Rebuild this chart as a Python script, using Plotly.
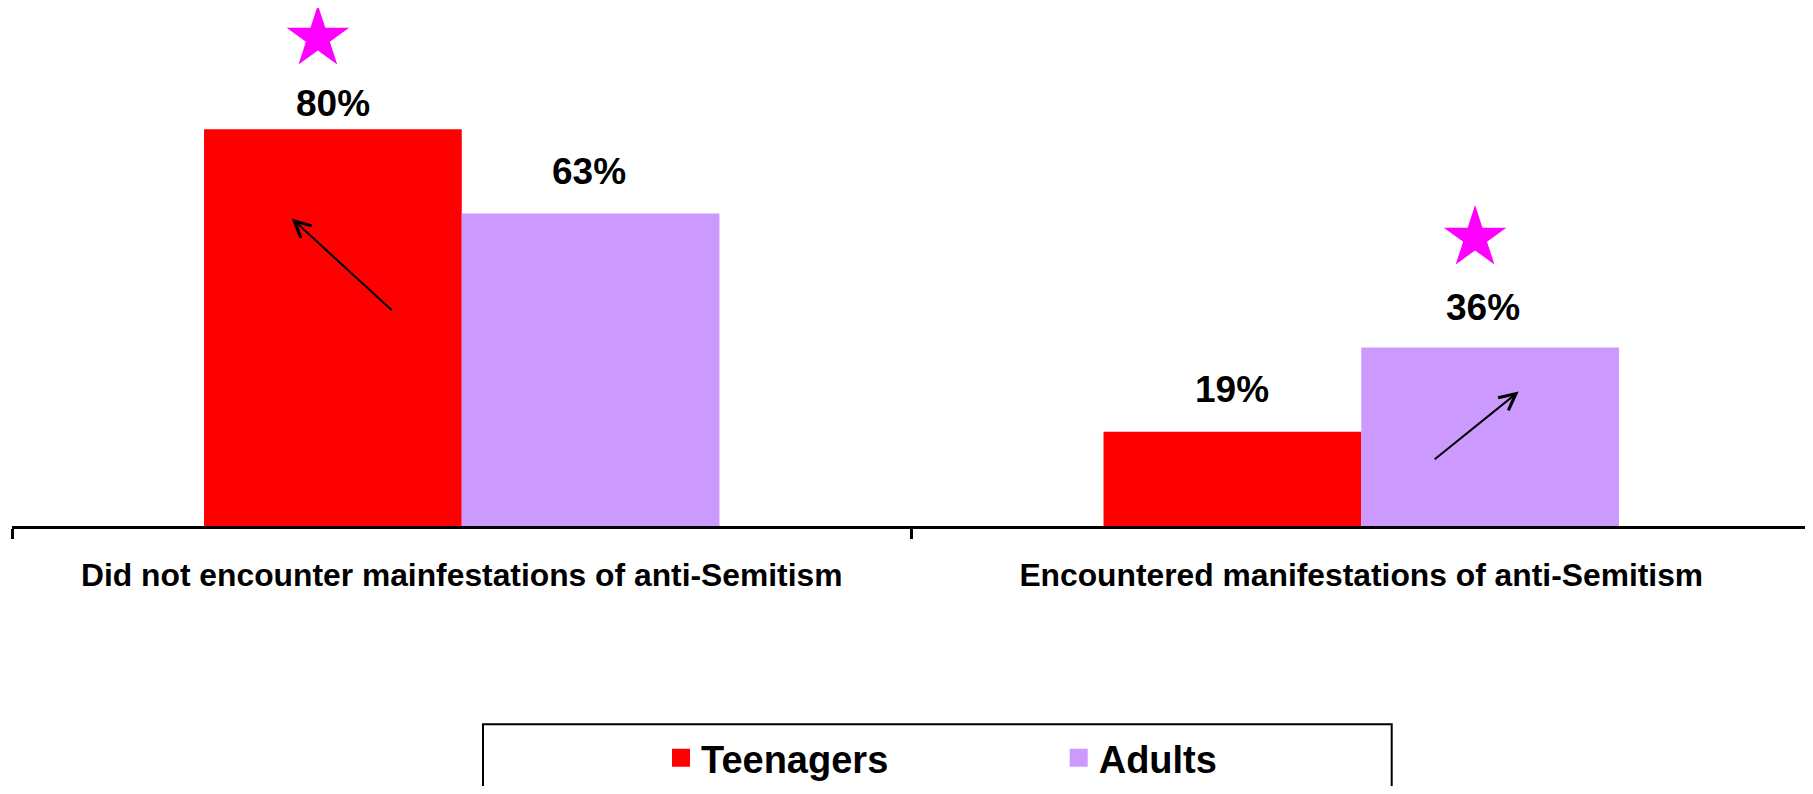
import plotly.graph_objects as go

# ---------------- data ----------------
categories = ["Did not encounter mainfestations of anti-Semitism",
              "Encountered manifestations of anti-Semitism"]
series_names = ["Teenagers", "Adults"]
teen_values = [80, 19]
adult_values = [63, 36]

# stars (significance markers): which category / series they sit over, and their height
star_category = [0, 1]
star_series = [0, 1]
star_y = [98.4, 58.1]

# trend arrows (data coordinates)
arrow_head_x = [-0.189, 1.175]
arrow_head_y = [62.0, 27.1]
arrow_tail_x = [-0.076, 1.080]
arrow_tail_y = [43.2, 13.2]

# ---------------- style ----------------
colors = ["#FF0000", "#CC99FF"]
star_color = "#FF00FF"
FONT = "Liberation Sans, Arial, sans-serif"
PAGE_OFF = 8            # default body margin of the html page
W, H = 1805, 778
ML, MR, MT, MB = 4, 2, 0, 260
PX_PER_UNIT = 4.96
plot_h = H - MT - MB
plot_w = W - ML - MR
bargap = 0.427
bar_w = (1 - bargap) / 2
offsets = [-bar_w / 2, bar_w / 2]
star_shift = -0.0167
# label placement relative to bar top centre (px)
label_gap = [[25.5, 42.5], [42, 40]]
label_dx = [[0, 0], [-2, -7]]

values = [teen_values, adult_values]

fig = go.Figure()
for i, name in enumerate(series_names):
    fig.add_trace(go.Bar(
        x=list(range(len(categories))), y=values[i], name=name,
        marker=dict(color=colors[i], line=dict(width=0)),
        showlegend=False, hoverinfo="skip"))

# legend-only entries (bigger squares)
for i, name in enumerate(series_names):
    fig.add_trace(go.Scatter(
        x=[None], y=[None], mode="markers", name=name,
        marker=dict(symbol="square", size=16, color=colors[i],
                    line=dict(width=2, color=colors[i])),
        legend="legend" if i == 0 else "legend2"))

# stars
star_x = [star_category[k] + offsets[star_series[k]] + star_shift for k in range(len(star_y))]
fig.add_trace(go.Scatter(
    x=star_x, y=star_y, mode="markers",
    marker=dict(symbol="star", size=47, color=star_color, line=dict(width=0)),
    showlegend=False, hoverinfo="skip", cliponaxis=False))

annotations = []
for i in range(len(series_names)):
    for c in range(len(categories)):
        annotations.append(dict(
            x=c + offsets[i], y=values[i][c], xref="x", yref="y",
            text=f"{values[i][c]}%", showarrow=False,
            yanchor="middle", xanchor="center",
            yshift=label_gap[i][c], xshift=label_dx[i][c],
            font=dict(family=FONT, size=37, color="black", weight="bold")))

for k in range(len(arrow_head_x)):
    annotations.append(dict(
        x=arrow_head_x[k], y=arrow_head_y[k], ax=arrow_tail_x[k], ay=arrow_tail_y[k],
        xref="x", yref="y", axref="x", ayref="y", text="", showarrow=True,
        arrowhead=5, arrowsize=1.6, arrowwidth=2, arrowcolor="black", standoff=0))

# page pixel -> figure coordinates
def paper_x(page_px):
    return (page_px - PAGE_OFF - ML) / plot_w

def paper_y(page_py):
    return (MT + plot_h - (page_py - PAGE_OFF)) / plot_h

def cont_x(page_px):
    return (page_px - PAGE_OFF) / W

def cont_y(page_py):
    return 1 - (page_py - PAGE_OFF) / H

legend_common = dict(orientation="h", yanchor="middle", xanchor="left",
                     xref="container", yref="container",
                     bgcolor="rgba(0,0,0,0)", borderwidth=0,
                     font=dict(family=FONT, size=38, color="black", weight="bold"))

fig.update_layout(
    width=W, height=H,
    margin=dict(l=ML, r=MR, t=MT, b=MB, pad=0, autoexpand=False),
    paper_bgcolor="white", plot_bgcolor="white",
    barmode="group", bargap=bargap, bargroupgap=0,
    showlegend=True,
    legend=dict(x=cont_x(661), y=cont_y(758), **legend_common),
    legend2=dict(x=cont_x(1058.7), y=cont_y(758), **legend_common),
    xaxis=dict(
        range=[-0.5, 1.5], tickmode="array", tickvals=list(range(len(categories))),
        ticktext=categories, ticks="", showline=True, linewidth=3, linecolor="black",
        showgrid=False, zeroline=False, ticklabelstandoff=19, automargin=False,
        tickfont=dict(family=FONT, size=31.8, color="black", weight="bold"),
        minor=dict(tickmode="array", tickvals=[-0.5, 0.5], ticks="outside",
                   ticklen=10, tickwidth=3, tickcolor="black", showgrid=False),
        fixedrange=True),
    yaxis=dict(range=[0, plot_h / PX_PER_UNIT], visible=False, fixedrange=True,
               automargin=False),
    annotations=annotations,
    shapes=[dict(type="rect", xref="paper", yref="paper",
                 x0=paper_x(483), x1=paper_x(1391.7),
                 y0=paper_y(724.3), y1=paper_y(805),
                 line=dict(color="black", width=2), fillcolor="rgba(0,0,0,0)",
                 layer="below")],
)

fig.write_html("out.html", config={"displayModeBar": False})
